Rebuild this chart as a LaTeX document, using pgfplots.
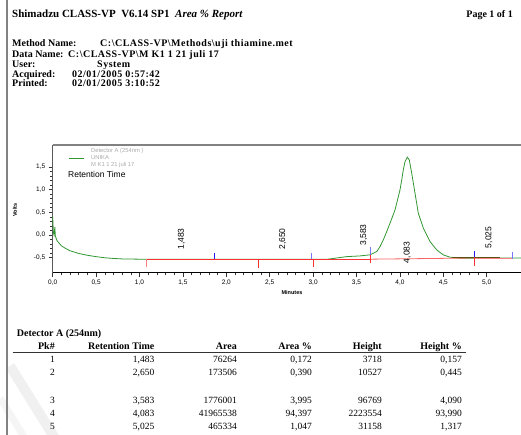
\documentclass[border=0pt]{standalone}
\usepackage{fontspec}
\setmainfont{Liberation Serif}
\newfontfamily\arial{Liberation Sans}
\newfontfamily\spacedbf[LetterSpace=5]{Liberation Serif Bold}
\usepackage{pgfplots}
\pgfplotsset{compat=1.18}
\definecolor{curvegreen}{RGB}{50,150,50}
\definecolor{basered}{RGB}{250,50,50}
\definecolor{basepink}{RGB}{250,130,130}
\definecolor{evblue}{RGB}{30,30,240}
\definecolor{evlblue}{RGB}{120,120,250}
\definecolor{olivebase}{RGB}{90,80,20}
\definecolor{framegray}{RGB}{130,130,130}
\definecolor{leggray}{RGB}{170,170,170}
\newcommand{\trow}[7]{%
  \node at (55,#1) {#2};
  \node at (154.5,#1) {#3};
  \node at (237,#1) {#4};
  \node at (312,#1) {#5};
  \node at (382,#1) {#6};
  \node at (462,#1) {#7};}
\begin{document}
\begin{tikzpicture}
\useasboundingbox (0,0) rectangle (521pt,-435pt);
\clip (0,0) rectangle (521pt,-435pt);
\fill[white] (0,0) rectangle (521pt,-435pt);
\begin{scope}[x=1pt,y=-1pt]
  % faint watermark
  \draw[line width=10pt, gray!12] (10,366) -- (56,440);
  \draw[line width=7pt, gray!8] (0,398) -- (26,440);
  % left frame line
  \draw[line width=2pt, framegray] (7.3,-2) -- (7.3,440);
  % header
  \node[anchor=base west, inner sep=0, font=\bfseries\fontsize{11}{13}\selectfont] at (12,18) {Shimadzu CLASS-VP\ \ V6.14 SP1};
  \node[anchor=base west, inner sep=0, font=\bfseries\itshape\fontsize{11}{13}\selectfont] at (175,18) {Area \% Report};
  \node[anchor=base east, inner sep=0, font=\bfseries\fontsize{10}{12}\selectfont] at (513,18) {Page 1 of 1};
  \begin{scope}[every node/.style={anchor=base west, inner sep=0, font=\bfseries\fontsize{10}{12}\selectfont}]
    \node at (12,46.5) {Method Name:};
    \node at (12,57.5) {Data Name:};
    \node at (12,67.5) {User:};
    \node at (12,77.5) {Acquired:};
    \node at (12,86.5) {Printed:};
  \end{scope}
  \begin{scope}[every node/.style={anchor=base west, inner sep=0, font=\spacedbf\fontsize{10}{12}\selectfont}]
    \node at (100,46.5) {C:\textbackslash CLASS-VP\textbackslash Methods\textbackslash uji thiamine.met};
    \node at (68,57.5) {C:\textbackslash CLASS-VP\textbackslash M K1 1 21 juli 17};
    \node at (97,67.5) {System};
    \node at (72,77.5) {02/01/2005 0:57:42};
    \node at (72,86.5) {02/01/2005 3:10:52};
  \end{scope}
  % chart extras
  \draw[curvegreen, line width=0.8pt] (69,158) -- (84,158);
  \begin{scope}[every node/.style={anchor=west, inner sep=0, text=leggray, font=\arial\fontsize{5.8}{6.5}\selectfont}]
    \node at (91,151) {Detector A (254nm )};
    \node at (91,158) {UNIKA};
    \node at (91,165) {M K1 1 21 juli 17};
  \end{scope}
  \node[anchor=west, inner sep=0, font=\arial\fontsize{8.5}{10}\selectfont] at (68,174) {Retention Time};
  \node[rotate=90, inner sep=0, font=\arial\bfseries\fontsize{5.5}{6}\selectfont] at (15,210) {Volts};
  \node[inner sep=0, font=\arial\bfseries\fontsize{5.5}{6}\selectfont] at (292,292.3) {Minutes};
  % table
  \node[anchor=base west, inner sep=0, font=\bfseries\fontsize{10}{12}\selectfont] at (16.7,336) {Detector A (254nm)};
  \begin{scope}[every node/.style={anchor=base east, inner sep=0, font=\bfseries\fontsize{10}{12}\selectfont}]
    \node at (55,349) {Pk\#};
    \node at (154.5,349) {Retention Time};
    \node at (237,349) {Area};
    \node at (312,349) {Area \%};
    \node at (382,349) {Height};
    \node at (462,349) {Height \%};
  \end{scope}
  \draw[line width=1pt, black!80] (12.7,352.3) -- (465.7,352.3);
  \begin{scope}[every node/.style={anchor=base east, inner sep=0, font=\fontsize{9.5}{11}\selectfont}]
    \trow{362.5}{1}{1,483}{76264}{0,172}{3718}{0,157}
    \trow{375.8}{2}{2,650}{173506}{0,390}{10527}{0,445}
    \trow{403.5}{3}{3,583}{1776001}{3,995}{96769}{4,090}
    \trow{416.3}{4}{4,083}{41965538}{94,397}{2223554}{93,990}
    \trow{429}{5}{5,025}{465334}{1,047}{31158}{1,317}
  \end{scope}
\end{scope}

\begin{axis}[
  at={(52.7pt,-272.5pt)}, anchor=south west,
  scale only axis, width=486.08pt, height=127.75pt,
  xmin=0, xmax=5.6, ymin=-0.83, ymax=1.99,
  axis x line=bottom, axis y line=left,
  axis line style={-},
  x axis line style={black, line width=0.8pt},
  y axis line style={black!65, line width=1.2pt},
  tick align=outside,
  major tick length=4pt, minor tick length=2.5pt,
  xtick={0,0.5,...,5}, ytick={-0.5,0,0.5,1,1.5},
  minor x tick num=4, minor y tick num=4,
  every tick/.style={black!80, line width=0.5pt},
  tick label style={font=\arial\fontsize{6.5}{7}\selectfont},
  /pgf/number format/fixed, /pgf/number format/fixed zerofill,
  /pgf/number format/precision=1, /pgf/number format/use comma,
  /pgf/number format/assume math mode=true,
  clip=false,
]
\draw[framegray, line width=1.6pt] (rel axis cs:0,1) -- (rel axis cs:1,1);
% chromatogram
\addplot[curvegreen, line width=0.8pt] coordinates {
(0,0.40) (0.008,0.05) (0.015,0.0) (0.025,0.17) (0.03,-0.02) (0.05,-0.13)
(0.1,-0.24) (0.15,-0.30) (0.2,-0.35) (0.3,-0.41) (0.4,-0.45) (0.5,-0.48)
(0.6,-0.505) (0.7,-0.52) (0.8,-0.53) (1.0,-0.536) (3.17,-0.536) (3.39,-0.479)
(3.54,-0.464) (3.655,-0.44) (3.733,-0.368) (3.771,-0.258) (3.809,-0.11)
(3.848,0.073) (3.886,0.258) (3.944,0.552) (3.982,0.846) (4.001,0.993)
(4.021,1.214) (4.039,1.435) (4.059,1.618) (4.085,1.715) (4.108,1.656)
(4.136,1.362) (4.174,0.921) (4.212,0.479) (4.27,0.148) (4.347,-0.148)
(4.424,-0.331) (4.5,-0.441) (4.577,-0.492) (4.692,-0.514) (5.6,-0.51)};
% baselines
\addplot[basered, line width=0.8pt] coordinates {(1.077,-0.536) (3.66,-0.536)};
\addplot[basered!75!white, line width=0.8pt] coordinates {(3.66,-0.536) (4.856,-0.51)};
\addplot[basepink, line width=0.8pt] coordinates {(4.856,-0.51) (5.29,-0.51)};
\addplot[olivebase, line width=0.9pt] coordinates {(4.6,-0.505) (5.15,-0.505)};
% event marks
\addplot[basepink, line width=0.7pt] coordinates {(1.077,-0.536) (1.077,-0.70)};
\addplot[evblue, line width=0.7pt] coordinates {(1.857,-0.536) (1.857,-0.39)};
\addplot[basered, line width=0.7pt] coordinates {(2.365,-0.536) (2.365,-0.72)};
\addplot[evlblue, line width=0.7pt] coordinates {(2.98,-0.536) (2.98,-0.39)};
\addplot[basered, line width=0.7pt] coordinates {(3.0,-0.536) (3.0,-0.70)};
\addplot[evlblue, line width=0.7pt] coordinates {(3.66,-0.44) (3.66,-0.27)};
\addplot[basered, line width=0.7pt] coordinates {(3.66,-0.44) (3.66,-0.61)};
\addplot[evblue, line width=0.7pt] coordinates {(4.856,-0.49) (4.856,-0.35)};
\addplot[basered, line width=0.7pt] coordinates {(4.856,-0.49) (4.856,-0.68)};
\addplot[evlblue, line width=0.7pt] coordinates {(5.29,-0.53) (5.29,-0.37)};
% peak labels
\begin{scope}[every node/.style={rotate=90, anchor=west, inner sep=0, font=\arial\fontsize{8.5}{10}\selectfont}]
\node at (axis cs:1.483,-0.331) {1,483};
\node at (axis cs:2.650,-0.331) {2,650};
\node at (axis cs:3.583,-0.243) {3,583};
\node at (axis cs:4.083,-0.625) {4,083};
\node at (axis cs:5.025,-0.294) {5,025};
\end{scope}
\end{axis}
\end{tikzpicture}
\end{document}
